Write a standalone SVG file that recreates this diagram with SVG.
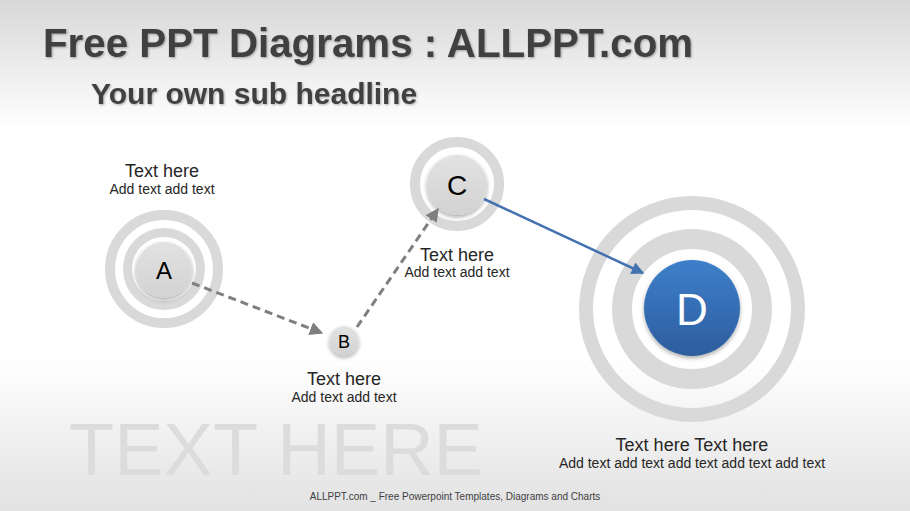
<svg xmlns="http://www.w3.org/2000/svg" width="910" height="511" viewBox="0 0 910 511">
<defs>
<linearGradient id="bg" x1="0" y1="0" x2="0" y2="1">
<stop offset="0" stop-color="#d8d8d8"/>
<stop offset="0.25" stop-color="#ffffff"/>
<stop offset="0.7" stop-color="#ffffff"/>
<stop offset="1" stop-color="#e2e2e2"/>
</linearGradient>
<linearGradient id="disc" x1="0" y1="0" x2="0" y2="1">
<stop offset="0" stop-color="#e2e2e2"/>
<stop offset="1" stop-color="#d2d2d2"/>
</linearGradient>
<linearGradient id="blue" x1="0" y1="0" x2="0" y2="1">
<stop offset="0" stop-color="#3d7fcb"/>
<stop offset="1" stop-color="#2d5d9e"/>
</linearGradient>
<filter id="sh" x="-30%" y="-30%" width="160%" height="170%">
<feDropShadow dx="0" dy="2" stdDeviation="2" flood-color="#000" flood-opacity="0.35"/>
</filter>
<filter id="tsh" x="-5%" y="-20%" width="110%" height="140%">
<feDropShadow dx="1" dy="1" stdDeviation="0.8" flood-color="#000" flood-opacity="0.3"/>
</filter>
<marker id="ag" viewBox="0 0 10 10" refX="9" refY="5" markerWidth="4.5" markerHeight="4.5" orient="auto" markerUnits="strokeWidth">
<path d="M0,0 L10,5 L0,10 z" fill="#7f7f7f"/>
</marker>
<marker id="ab" viewBox="0 0 10 10" refX="9" refY="5" markerWidth="5.5" markerHeight="5" orient="auto" markerUnits="strokeWidth">
<path d="M0,0 L10,5 L0,10 z" fill="#4472b0"/>
</marker>
</defs>
<style>
.ring{fill:none;stroke:#d9d9d9}
.lbl{font-family:"Liberation Sans",Arial,sans-serif;fill:#000;text-anchor:middle}
.t1{font-family:"Liberation Sans",Arial,sans-serif;font-size:18px;fill:#262626;text-anchor:middle}
.t2{font-family:"Liberation Sans",Arial,sans-serif;font-size:14px;fill:#262626;text-anchor:middle}
</style>
<rect x="0" y="0" width="910" height="511" fill="url(#bg)"/>
<text x="43" y="57" font-family="'Liberation Sans',Arial,sans-serif" font-weight="bold" font-size="40.3" fill="#404040" filter="url(#tsh)">Free PPT Diagrams : ALLPPT.com</text>
<text x="91" y="104" font-family="'Liberation Sans',Arial,sans-serif" font-weight="bold" font-size="30" fill="#404040" filter="url(#tsh)">Your own sub headline</text>
<text x="69" y="475" font-family="'Liberation Sans',Arial,sans-serif" font-size="74" fill="#dcdcdc">TEXT HERE</text>
<text x="455" y="500" font-family="'Liberation Sans',Arial,sans-serif" font-size="10" fill="#404040" text-anchor="middle">ALLPPT.com _ Free Powerpoint Templates, Diagrams and Charts</text>

<g id="node-a">
<circle class="ring" cx="164" cy="269" r="54" stroke-width="10"/>
<circle class="ring" cx="164" cy="269" r="36.5" stroke-width="9"/>
<circle cx="164" cy="270" r="28" fill="url(#disc)" filter="url(#sh)"/>
<text class="lbl" x="164" y="279" font-size="24">A</text>
<text class="t1" x="162" y="177">Text here</text>
<text class="t2" x="162" y="194">Add text add text</text>
</g>

<g id="node-b">
<circle cx="344" cy="341" r="14.5" fill="url(#disc)" filter="url(#sh)"/>
<text class="lbl" x="344" y="348" font-size="18">B</text>
<text class="t1" x="344" y="385">Text here</text>
<text class="t2" x="344" y="402">Add text add text</text>
</g>

<g id="node-c">
<circle class="ring" cx="457" cy="184" r="42" stroke-width="10"/>
<circle cx="457" cy="185" r="30" fill="url(#disc)" filter="url(#sh)"/>
<text class="lbl" x="457" y="195" font-size="28">C</text>
<text class="t1" x="457" y="261">Text here</text>
<text class="t2" x="457" y="277">Add text add text</text>
</g>

<g id="node-d">
<circle class="ring" cx="692" cy="309" r="106" stroke-width="14"/>
<circle class="ring" cx="692" cy="309" r="70" stroke-width="20"/>
<circle cx="692" cy="308" r="48" fill="url(#blue)" filter="url(#sh)"/>
<text x="692" y="325" font-family="'Liberation Sans',Arial,sans-serif" font-size="44" fill="#ffffff" text-anchor="middle">D</text>
<text class="t1" x="692" y="451">Text here Text here</text>
<text class="t2" x="692" y="468">Add text add text add text add text add text</text>
</g>

<g id="connectors">
<line x1="192" y1="283" x2="322" y2="333" stroke="#7f7f7f" stroke-width="3" stroke-dasharray="8,5" marker-end="url(#ag)"/>
<line x1="357" y1="327" x2="438" y2="209" stroke="#7f7f7f" stroke-width="3" stroke-dasharray="8,5" marker-end="url(#ag)"/>
<line x1="484" y1="199" x2="643" y2="273" stroke="#4472b0" stroke-width="2.5" marker-end="url(#ab)"/>
</g>
</svg>
